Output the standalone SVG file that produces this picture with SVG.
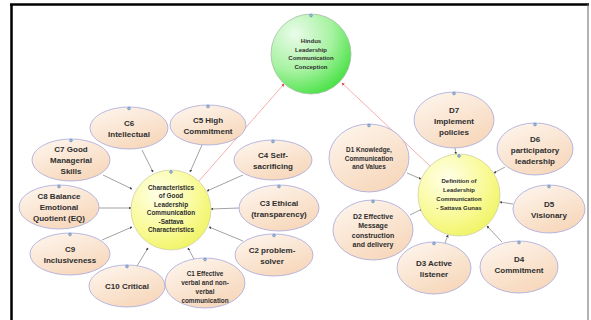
<svg xmlns="http://www.w3.org/2000/svg" width="591" height="320" viewBox="0 0 591 320">
<defs>
<linearGradient id="peach" x1="0" y1="0" x2="0.6" y2="1">
<stop offset="0" stop-color="#fef7f0"/>
<stop offset="1" stop-color="#f7d8bc"/>
</linearGradient>
<radialGradient id="yellow" cx="0.35" cy="0.3" r="0.8">
<stop offset="0" stop-color="#ffffe8"/>
<stop offset="0.6" stop-color="#f9fa96"/>
<stop offset="1" stop-color="#eef25c"/>
</radialGradient>
<radialGradient id="green" cx="0.3" cy="0.25" r="0.85">
<stop offset="0" stop-color="#eafcea"/>
<stop offset="0.55" stop-color="#a6f2a0"/>
<stop offset="1" stop-color="#3fe03c"/>
</radialGradient>
<marker id="ag" viewBox="0 0 6 6" refX="5" refY="3" markerWidth="4" markerHeight="4" orient="auto">
<path d="M0,0 L6,3 L0,6 z" fill="#444"/>
</marker>
<marker id="ar" viewBox="0 0 6 6" refX="5" refY="3" markerWidth="4" markerHeight="4" orient="auto">
<path d="M0,0 L6,3 L0,6 z" fill="#e04040"/>
</marker>
</defs>
<style>
.el{fill:url(#peach);stroke:#a7a7dc;stroke-width:0.8}
.cy{fill:url(#yellow);stroke:#d0d0a8;stroke-width:0.8}
.cg{fill:url(#green);stroke:#a8bca8;stroke-width:0.8}
.ic{fill:#9fbde0;stroke:#4d74a8;stroke-width:0.5}
text{font-family:"Liberation Sans",Arial,sans-serif;font-weight:bold;fill:#2e2e2e;text-anchor:middle}
.t8{font-size:8px}
.t7{font-size:7px}
.t65{font-size:6.4px}
.t6{font-size:6px}
.cn{stroke:#7a7a7a;stroke-width:0.7;fill:none;marker-end:url(#ag)}
.rd{stroke:#f09a9a;stroke-width:0.8;fill:none;marker-end:url(#ar)}
</style>
<rect width="591" height="320" fill="#ffffff"/>
<g id="frame">
<line x1="10" y1="4.5" x2="589" y2="4.5" stroke="#000" stroke-width="2.5"/>
<line x1="11.5" y1="4" x2="11.5" y2="320" stroke="#000" stroke-width="2.5"/>
<line x1="588" y1="4" x2="588" y2="320" stroke="#666" stroke-width="1"/>
</g>
<g id="connectors">
<line class="rd" x1="199" y1="181" x2="284" y2="84"/>
<line class="rd" x1="430" y1="166" x2="342" y2="83"/>
<line class="cn" x1="142" y1="150" x2="153" y2="172"/>
<line class="cn" x1="202" y1="145" x2="190" y2="172"/>
<line class="cn" x1="103" y1="175" x2="132" y2="189"/>
<line class="cn" x1="99" y1="208" x2="131" y2="208"/>
<line class="cn" x1="102" y1="240" x2="132" y2="227"/>
<line class="cn" x1="137" y1="266" x2="148" y2="248"/>
<line class="cn" x1="194" y1="259" x2="188" y2="248"/>
<line class="cn" x1="243" y1="241" x2="209" y2="227"/>
<line class="cn" x1="239" y1="208" x2="211" y2="209"/>
<line class="cn" x1="243" y1="175" x2="207" y2="191"/>
<line class="cn" x1="455" y1="148" x2="456" y2="154"/>
<line class="cn" x1="505" y1="167" x2="494" y2="173"/>
<line class="cn" x1="513" y1="204" x2="500" y2="202"/>
<line class="cn" x1="502" y1="242" x2="487" y2="226"/>
<line class="cn" x1="445" y1="243" x2="448" y2="235"/>
<line class="cn" x1="410" y1="215" x2="422" y2="209"/>
<line class="cn" x1="407" y1="173" x2="421" y2="179"/>
</g>
<g id="hindus">
<circle class="cg" cx="311" cy="54" r="40"/>
<circle class="ic" cx="311" cy="15.5" r="1.4"/>
<text class="t6" x="311" y="43">Hindus</text>
<text class="t6" x="311" y="51.7">Leadership</text>
<text class="t6" x="311" y="60.3">Communication</text>
<text class="t6" x="311" y="69">Conception</text>
</g>
<g id="characteristics">
<circle class="cy" cx="171" cy="210" r="40"/>
<circle class="ic" cx="171" cy="172" r="1.4"/>
<text class="t65" x="171" y="189.7">Characteristics</text>
<text class="t65" x="171" y="198.2">of Good</text>
<text class="t65" x="171" y="206.7">Leadership</text>
<text class="t65" x="171" y="215.2">Communication</text>
<text class="t65" x="171" y="223.7">-Sattava</text>
<text class="t65" x="171" y="232.2">Characteristics</text>
</g>
<g id="definition">
<circle class="cy" cx="459" cy="195" r="41"/>
<circle class="ic" cx="459" cy="156" r="1.4"/>
<text class="t6" x="459" y="183">Definition of</text>
<text class="t6" x="459" y="192">Leadership</text>
<text class="t6" x="459" y="201">Communication</text>
<text class="t6" x="459" y="210">- Sattava Gunas</text>
</g>
<g id="c6">
<ellipse class="el" cx="129" cy="128" rx="39" ry="21"/>
<circle class="ic" cx="129" cy="108.5" r="1.4"/>
<text class="t8" x="129" y="125.5">C6</text>
<text class="t8" x="129" y="136.5">Intellectual</text>
</g>
<g id="c5">
<ellipse class="el" cx="208" cy="125" rx="38" ry="20"/>
<circle class="ic" cx="208" cy="106.5" r="1.4"/>
<text class="t8" x="208" y="123">C5 High</text>
<text class="t8" x="208" y="134">Commitment</text>
</g>
<g id="c7">
<ellipse class="el" cx="71" cy="160" rx="39" ry="21"/>
<circle class="ic" cx="71" cy="140.5" r="1.4"/>
<text class="t8" x="71" y="152">C7 Good</text>
<text class="t8" x="71" y="163">Managerial</text>
<text class="t8" x="71" y="174">Skills</text>
</g>
<g id="c4">
<ellipse class="el" cx="273" cy="160" rx="39" ry="20"/>
<circle class="ic" cx="273" cy="141.5" r="1.4"/>
<text class="t8" x="273" y="157.5">C4 Self-</text>
<text class="t8" x="273" y="168.5">sacrificing</text>
</g>
<g id="c8">
<ellipse class="el" cx="59" cy="207" rx="40" ry="22"/>
<circle class="ic" cx="59" cy="186.5" r="1.4"/>
<text class="t8" x="59" y="199">C8 Balance</text>
<text class="t8" x="59" y="210">Emotional</text>
<text class="t8" x="59" y="221">Quotient (EQ)</text>
</g>
<g id="c3">
<ellipse class="el" cx="279" cy="208" rx="40" ry="23"/>
<circle class="ic" cx="279" cy="186.5" r="1.4"/>
<text class="t8" x="279" y="205.5">C3 Ethical</text>
<text class="t8" x="279" y="216.5">(transparency)</text>
</g>
<g id="c9">
<ellipse class="el" cx="70" cy="254" rx="40" ry="21"/>
<circle class="ic" cx="70" cy="234.5" r="1.4"/>
<text class="t8" x="70" y="251.5">C9</text>
<text class="t8" x="70" y="262.5">Inclusiveness</text>
</g>
<g id="c2">
<ellipse class="el" cx="274" cy="255" rx="39" ry="21"/>
<circle class="ic" cx="274" cy="235.5" r="1.4"/>
<text class="t8" x="272" y="252.5">C2 problem-</text>
<text class="t8" x="272" y="263.5">solver</text>
</g>
<g id="c10">
<ellipse class="el" cx="127" cy="286" rx="38" ry="21"/>
<circle class="ic" cx="127" cy="266.5" r="1.4"/>
<text class="t8" x="127" y="289">C10 Critical</text>
</g>
<g id="c1">
<ellipse class="el" cx="205" cy="283" rx="40" ry="25"/>
<circle class="ic" cx="205" cy="259.5" r="1.4"/>
<text class="t65" x="205" y="275.7">C1 Effective</text>
<text class="t65" x="205" y="284.7">verbal and non-</text>
<text class="t65" x="205" y="293.7">verbal</text>
<text class="t65" x="205" y="302.7">communication</text>
</g>
<g id="d7">
<ellipse class="el" cx="454" cy="120" rx="40" ry="28"/>
<circle class="ic" cx="454" cy="93.5" r="1.4"/>
<text class="t8" x="454" y="112.5">D7</text>
<text class="t8" x="454" y="123.5">Implement</text>
<text class="t8" x="454" y="134.5">policies</text>
</g>
<g id="d6">
<ellipse class="el" cx="535" cy="149" rx="38" ry="26"/>
<circle class="ic" cx="535" cy="124.5" r="1.4"/>
<text class="t8" x="535" y="142">D6</text>
<text class="t8" x="535" y="153">participatory</text>
<text class="t8" x="535" y="164">leadership</text>
</g>
<g id="d5">
<ellipse class="el" cx="549" cy="209" rx="36" ry="24"/>
<circle class="ic" cx="549" cy="186.5" r="1.4"/>
<text class="t8" x="549" y="207">D5</text>
<text class="t8" x="549" y="218">Visionary</text>
</g>
<g id="d4">
<ellipse class="el" cx="519" cy="267" rx="39" ry="26"/>
<circle class="ic" cx="519" cy="242.5" r="1.4"/>
<text class="t8" x="519" y="261.5">D4</text>
<text class="t8" x="519" y="272.5">Commitment</text>
</g>
<g id="d3">
<ellipse class="el" cx="434" cy="268" rx="37" ry="26"/>
<circle class="ic" cx="434" cy="243.5" r="1.4"/>
<text class="t8" x="434" y="265.5">D3 Active</text>
<text class="t8" x="434" y="276.5">listener</text>
</g>
<g id="d2">
<ellipse class="el" cx="373" cy="230" rx="40" ry="30"/>
<circle class="ic" cx="373" cy="201.5" r="1.4"/>
<text class="t7" x="373" y="218.5">D2 Effective</text>
<text class="t7" x="373" y="228">Message</text>
<text class="t7" x="373" y="237.5">construction</text>
<text class="t7" x="373" y="247">and delivery</text>
</g>
<g id="d1">
<ellipse class="el" cx="369" cy="158" rx="40" ry="34"/>
<circle class="ic" cx="369" cy="125.5" r="1.4"/>
<text class="t65" x="369" y="152.2">D1 Knowledge,</text>
<text class="t65" x="369" y="160.7">Communication</text>
<text class="t65" x="369" y="169.2">and Values</text>
</g>
</svg>
